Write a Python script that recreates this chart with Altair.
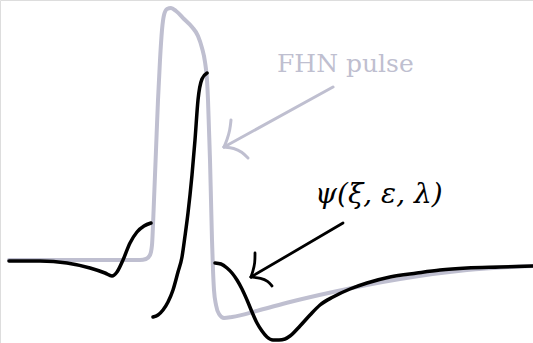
import altair as alt
import pandas as pd

# Canvas coordinates of the sketch (x to the right, y downward)
W, H = 533, 343

# FitzHugh-Nagumo travelling pulse
fhn_x = [9, 60, 120, 140, 146, 150, 152, 153, 154, 156, 158, 160, 162, 164, 167, 171,
         176, 184, 192, 198, 202, 205, 207, 208, 209, 210, 211, 212, 213, 214, 216, 219,
         224, 232, 260, 290, 333, 400, 467, 533]
fhn_y = [260, 260, 260, 260, 259, 255, 245, 225, 200, 150, 100, 60, 30, 15, 9, 8,
         11, 19, 27, 36, 48, 62, 80, 100, 130, 160, 200, 240, 270, 290, 305, 314,
         318, 317, 310, 302, 292, 279, 270, 266]

# psi(xi, eps, lambda): three separate branches
psi1_x = [9, 40, 67, 90, 105, 112, 117, 123, 130, 137, 144, 151]
psi1_y = [261, 261, 263, 268, 273, 276, 272, 260, 243, 232, 226, 223]

psi2_x = [153, 158, 163, 168, 173, 178, 182, 185, 188, 190, 192, 195, 198, 202, 207]
psi2_y = [317, 315, 310, 302, 290, 272, 257, 236, 213, 195, 175, 140, 100, 79, 73]

psi3_x = [215, 221, 227, 232, 237, 242, 247, 252, 257, 262, 267, 273, 279, 285, 290,
          300, 310, 320, 333, 350, 367, 390, 417, 440, 467, 500, 533]
psi3_y = [263, 264, 268, 273, 280, 289, 300, 312, 323, 331, 337, 340, 340, 339, 336,
          326, 315, 305, 297, 289, 283, 277, 273, 270, 268, 267, 266]

# Annotation arrows: shaft and two curved barbs each
gray_shaft_x, gray_shaft_y = [333, 224], [87, 147]
gray_barb1_x, gray_barb1_y = [231, 230, 227, 224], [120, 130, 140, 147]
gray_barb2_x, gray_barb2_y = [224, 234, 242, 248], [147, 148, 152, 158]

black_shaft_x, black_shaft_y = [343, 251], [223, 277]
black_barb1_x, black_barb1_y = [255, 255, 253, 251], [253, 263, 271, 277]
black_barb2_x, black_barb2_y = [251, 261, 268, 272], [277, 278, 281, 286]

# Labels
label_text = ["FHN pulse", "ψ(ξ, ε, λ)"]
label_x = [277, 315]
label_y = [72, 203]
label_color = ["#bfbfd0", "#000000"]
label_size = [25, 28]

GRAY = "#bfbfd0"
BLACK = "#000000"
SERIF = "DejaVu Serif"


def frame(xs, ys, name):
    return pd.DataFrame({"x": xs, "y": ys, "i": range(len(xs)), "s": name})


xs = alt.Scale(domain=[0, W])
ys = alt.Scale(domain=[0, H], reverse=True)


def line(df, color, width):
    return alt.Chart(df).mark_line(
        color=color, strokeWidth=width, interpolate="monotone",
        strokeCap="round", strokeJoin="round"
    ).encode(
        x=alt.X("x:Q", scale=xs, axis=None),
        y=alt.Y("y:Q", scale=ys, axis=None),
        order="i:Q",
    )


def arrow(df, color, width):
    return alt.Chart(df).mark_line(
        color=color, strokeWidth=width, interpolate="basis",
        strokeCap="round", strokeJoin="round"
    ).encode(
        x=alt.X("x:Q", scale=xs, axis=None),
        y=alt.Y("y:Q", scale=ys, axis=None),
        order="i:Q",
        detail="s:N",
    )


layers = [
    line(frame(fhn_x, fhn_y, "fhn"), GRAY, 4),
    arrow(pd.concat([
        frame(gray_shaft_x, gray_shaft_y, "a"),
        frame(gray_barb1_x, gray_barb1_y, "b"),
        frame(gray_barb2_x, gray_barb2_y, "c"),
    ]), GRAY, 3),
    line(frame(psi1_x, psi1_y, "p1"), BLACK, 3.5),
    line(frame(psi2_x, psi2_y, "p2"), BLACK, 3.5),
    line(frame(psi3_x, psi3_y, "p3"), BLACK, 3.5),
    arrow(pd.concat([
        frame(black_shaft_x, black_shaft_y, "a"),
        frame(black_barb1_x, black_barb1_y, "b"),
        frame(black_barb2_x, black_barb2_y, "c"),
    ]), BLACK, 2.8),
]

labels = pd.DataFrame({"t": label_text, "x": label_x, "y": label_y})
for k in range(len(label_text)):
    layers.append(
        alt.Chart(labels.iloc[[k]]).mark_text(
            align="left", baseline="alphabetic", font=SERIF,
            fontSize=label_size[k], color=label_color[k],
            fontStyle="normal" if k == 0 else "italic",
        ).encode(
            x=alt.X("x:Q", scale=xs, axis=None),
            y=alt.Y("y:Q", scale=ys, axis=None),
            text="t:N",
        )
    )

chart = alt.layer(*layers).properties(
    width=W, height=H, padding=0, autosize="none"
).configure_view(stroke=None).configure(background="white")

chart.save("out.html", embed_options={"renderer": "svg", "actions": False})
